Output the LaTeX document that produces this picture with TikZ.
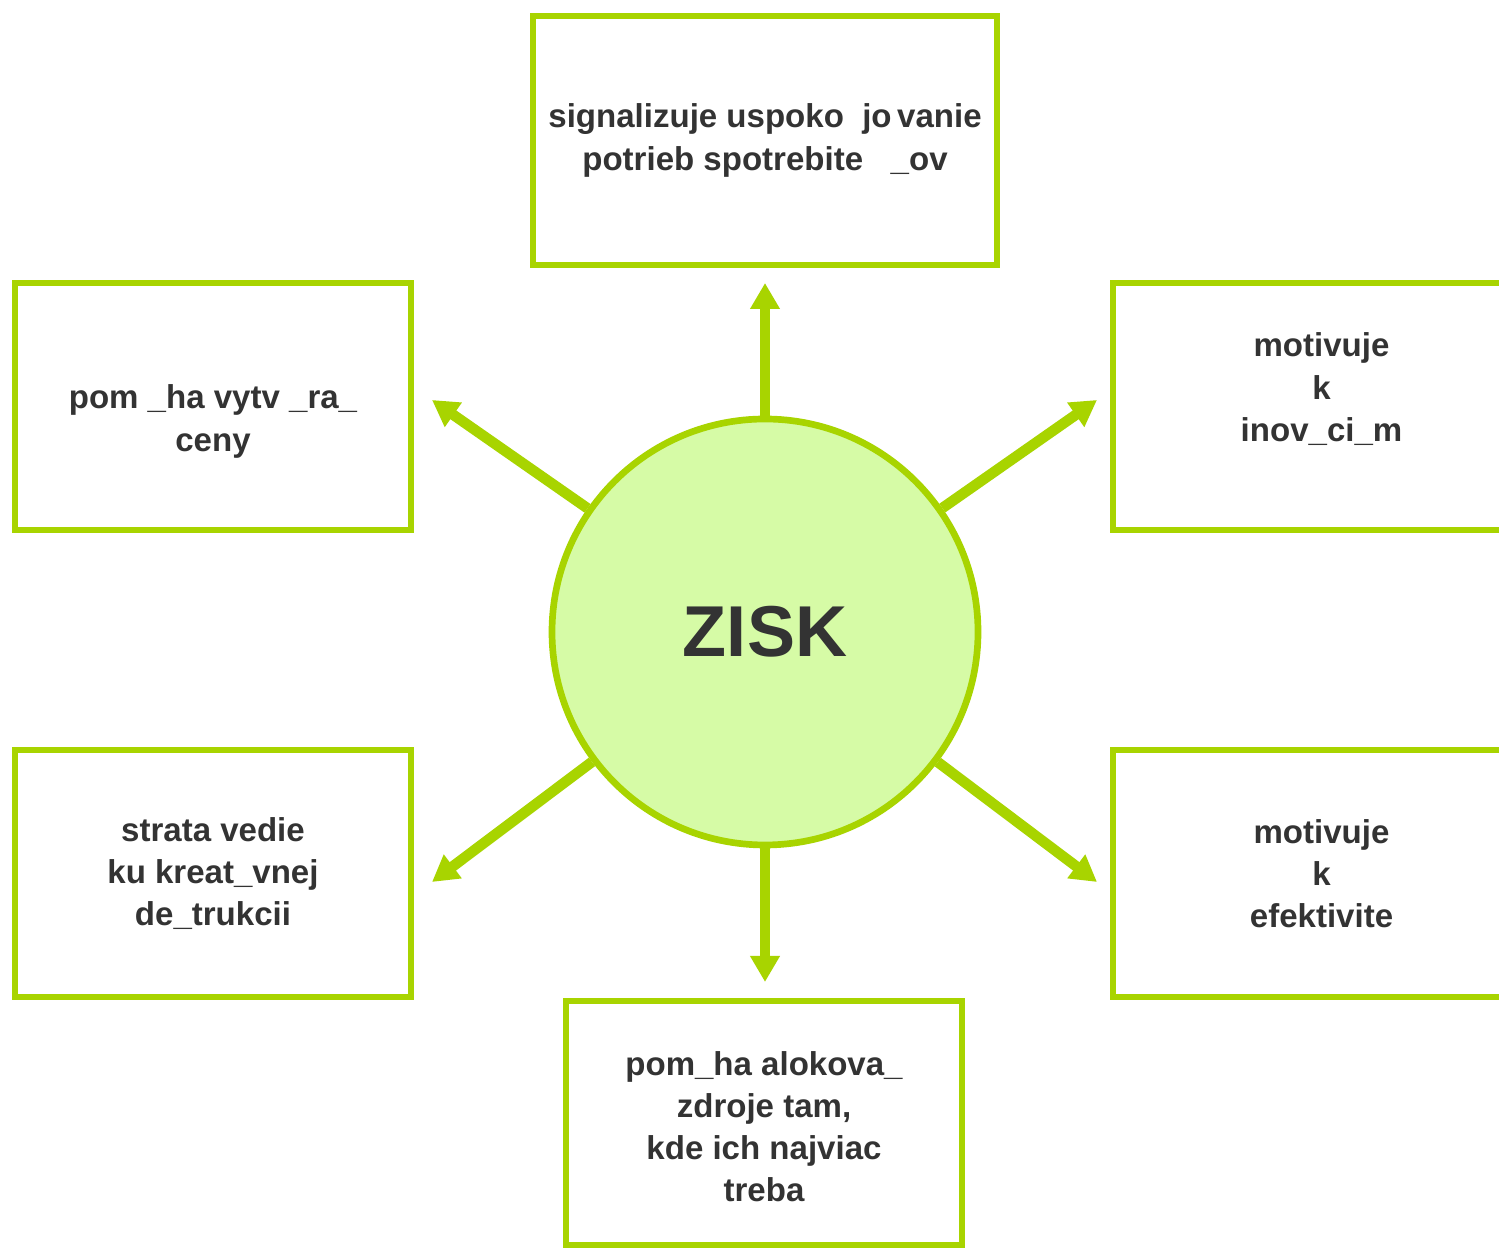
\documentclass[tikz,border=0pt]{standalone}
\usepackage{fontspec}
\setmainfont{Liberation Sans}
\usetikzlibrary{arrows.meta, positioning}

\definecolor{zgreen}{HTML}{A8D400}
\definecolor{zfill}{HTML}{D6FBA6}
\definecolor{ztext}{HTML}{333333}

\begin{document}
\begin{tikzpicture}[
    box/.style={draw=zgreen, line width=1.7pt, fill=white, align=center, inner sep=0pt,
                text=ztext, font=\fontsize{9.4}{12}\selectfont\bfseries},
    arr/.style={-{Triangle[length=7.4pt,width=8pt]}, line width=3pt, zgreen}
]
                \clip (0,0) rectangle (14.99,12.48);
                \fill[white] (0,0) rectangle (14.99,12.48);

                % Central circle
                \node[draw=zgreen, fill=zfill, line width=1.9pt, circle, minimum size=4.26cm, inner sep=0pt,
                      text=ztext, font=\fontsize{20.5}{24}\selectfont\bfseries] (zisk) at (7.65,6.16) {ZISK};

                % Surrounding boxes
                \node[box, minimum width=4.64cm, minimum height=2.49cm] (signal) at (7.65,11.075)
                    {signalizuje uspoko~ jo\,vanie\\potrieb spotrebite~~ \_ov};
                \node[box, minimum width=3.96cm, minimum height=2.47cm] (ceny) at (2.13,8.415)
                    {\raisebox{-2.3mm}[0pt][0pt]{\begin{tabular}{@{}c@{}}pom \_ha vytv \_ra\_\\ceny\end{tabular}}};
                \node[box, minimum width=4.17cm, minimum height=2.47cm] (inov) at (13.215,8.415)
                    {\raisebox{0.8mm}[0pt][0pt]{\begin{tabular}{@{}c@{}}motivuje\\k\\inov\_ci\_m\end{tabular}}};
                \node[box, minimum width=3.96cm, minimum height=2.47cm] (strata) at (2.13,3.745)
                    {strata vedie\\ku kreat\_vnej\\de\_trukcii};
                \node[box, minimum width=4.17cm, minimum height=2.47cm] (efekt) at (13.215,3.745)
                    {motivuje\\k\\efektivite};
                \node[box, minimum width=3.96cm, minimum height=2.44cm] (zdroje) at (7.64,1.25)
                    {\raisebox{-1.5mm}[0pt][0pt]{\begin{tabular}{@{}c@{}}pom\_ha alokova\_\\zdroje tam,\\kde ich najviac\\treba\end{tabular}}};

                % Arrow tips
                \coordinate (tipN) at (7.65,9.65);
                \coordinate (tipNW) at (4.32,8.48);
                \coordinate (tipNE) at (10.97,8.48);
                \coordinate (tipSW) at (4.32,3.66);
                \coordinate (tipSE) at (10.97,3.66);
                \coordinate (tipS) at (7.65,2.66);

                % Arrows
                \draw[arr] (zisk) -- (tipN);
                \draw[arr] (zisk) -- (tipNW);
                \draw[arr] (zisk) -- (tipNE);
                \draw[arr] (zisk) -- (tipSW);
                \draw[arr] (zisk) -- (tipSE);
                \draw[arr] (zisk) -- (tipS);
            \end{tikzpicture}
\end{document}
